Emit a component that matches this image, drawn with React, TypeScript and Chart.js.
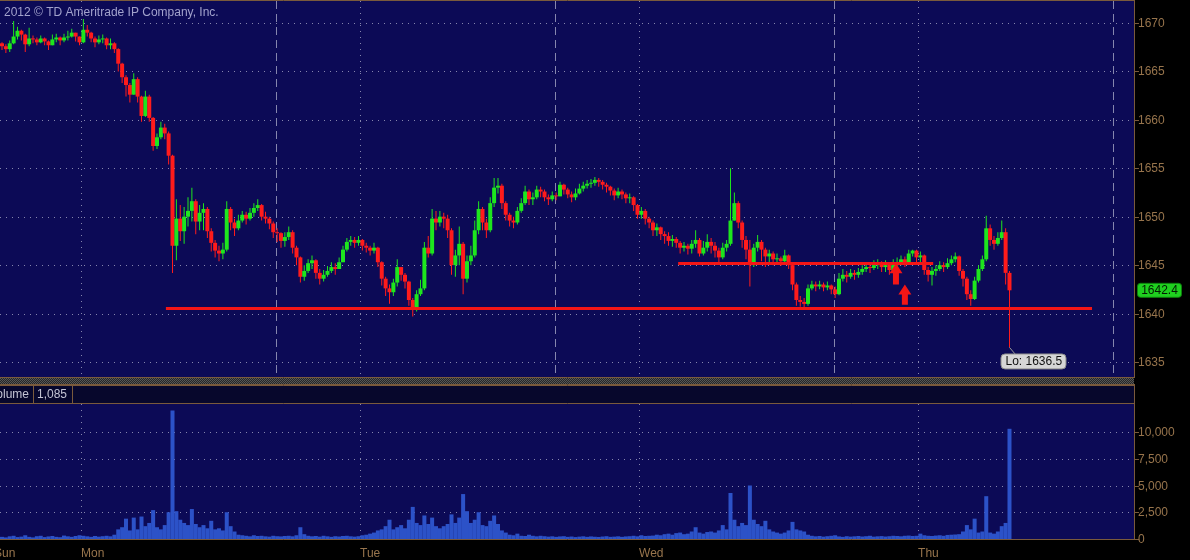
import React, { useEffect, useRef } from "react";
import { Chart, registerables } from "chart.js";
Chart.register(...registerables);

// ---- data (20-minute candles, index 0 = left edge of chart) ----
const firstOpen = 1667.9;
const closes = [
  1667.6, 1667.3, 1667.9, 1668.6, 1669.2, 1668.8, 1667.8, 1668.4, 1668.3, 1668.0,
  1668.4, 1668.1, 1667.7, 1668.3, 1668.5, 1668.2, 1668.5, 1668.6, 1669.0, 1668.6,
  1668.0, 1669.3, 1669.0, 1668.4, 1668.0, 1668.3, 1668.4, 1667.7, 1667.9, 1667.3,
  1665.8, 1664.4, 1663.6, 1662.6, 1664.2, 1662.4, 1660.4, 1662.4, 1660.2, 1657.3,
  1658.2, 1659.2, 1658.6, 1656.3, 1647.0, 1649.8, 1648.5, 1650.0, 1650.6, 1651.6,
  1649.5, 1650.4, 1650.8, 1648.5, 1647.3, 1646.5, 1646.2, 1646.6, 1650.8, 1649.4,
  1648.8, 1649.6, 1650.2, 1649.8, 1650.4, 1650.9, 1651.2, 1650.0, 1649.8, 1649.3,
  1648.4, 1648.3, 1647.5, 1647.9, 1648.4, 1646.8, 1645.8, 1643.8, 1644.4, 1645.2,
  1645.5, 1644.2, 1643.6, 1644.0, 1644.4, 1644.8, 1644.6, 1645.3, 1646.6, 1647.4,
  1647.6, 1647.3, 1647.6, 1647.0, 1646.8, 1646.5, 1646.8, 1645.3, 1643.6, 1642.6,
  1642.2, 1643.2, 1644.8, 1644.0, 1643.3, 1641.4, 1640.4, 1642.0, 1642.6, 1646.8,
  1646.2, 1649.8, 1649.4, 1650.0, 1649.8, 1648.6, 1645.0, 1646.0, 1647.2, 1643.6,
  1645.4, 1646.0, 1648.6, 1650.8, 1649.4, 1648.6, 1651.4, 1653.0, 1653.2, 1651.4,
  1650.2, 1649.6, 1649.4, 1650.6, 1651.4, 1652.6, 1651.8, 1652.0, 1652.8, 1652.6,
  1652.0, 1651.8, 1652.2, 1652.1, 1653.3, 1652.8, 1652.3, 1652.0, 1652.4, 1652.9,
  1653.2, 1653.4, 1653.5, 1653.8, 1653.6, 1653.3, 1653.1, 1652.7, 1652.2, 1652.6,
  1652.3, 1651.9, 1652.0, 1651.2, 1650.2, 1650.6, 1649.8, 1649.4, 1648.6, 1648.9,
  1648.2, 1648.0, 1647.5, 1647.7, 1647.3, 1646.8, 1647.0, 1646.7, 1647.2, 1647.6,
  1646.2, 1646.8, 1647.4, 1647.0, 1646.5, 1645.8, 1646.8, 1647.2, 1649.6, 1651.4,
  1649.4, 1647.6, 1646.6, 1645.0, 1646.8, 1647.4, 1646.6, 1645.9, 1646.2, 1645.6,
  1645.7, 1645.4, 1646.0, 1645.0, 1643.0, 1641.4, 1641.2, 1641.0, 1642.6, 1643.0,
  1642.8, 1643.0, 1642.7, 1642.9, 1642.5, 1642.0, 1643.6, 1644.0, 1643.8, 1644.2,
  1644.0, 1644.3, 1644.6, 1644.8, 1644.7, 1645.0, 1645.2, 1644.8, 1645.0, 1644.5,
  1645.0, 1645.3, 1645.6, 1645.3, 1646.2, 1646.5, 1645.8, 1646.0, 1644.5, 1644.0,
  1644.4, 1644.6, 1645.0, 1644.8, 1645.2, 1645.6, 1645.9, 1644.4, 1643.6, 1642.0,
  1641.5, 1643.4, 1644.6, 1645.6, 1648.8, 1647.6, 1647.2, 1647.8, 1648.4, 1644.2,
  1642.4,
];
const highs = [
  1668.0, 1667.8, 1668.2, 1670.2, 1669.6, 1669.3, 1668.9, 1669.5, 1668.7, 1668.5,
  1668.7, 1668.5, 1668.2, 1668.8, 1668.9, 1668.6, 1668.9, 1669.2, 1669.4, 1669.0,
  1668.6, 1670.4, 1669.8, 1669.1, 1668.6, 1668.7, 1668.8, 1668.5, 1668.4, 1668.0,
  1667.4, 1665.9, 1664.6, 1663.8, 1664.8, 1664.4, 1662.5, 1663.0, 1662.6, 1660.3,
  1658.6, 1659.8, 1659.6, 1658.8, 1656.4, 1651.8, 1651.2, 1651.0, 1652.0, 1653.0,
  1651.8, 1651.2, 1651.4, 1651.0, 1648.8, 1647.6, 1647.0, 1647.3, 1651.6, 1651.0,
  1649.8, 1650.2, 1650.6, 1650.5, 1650.9, 1651.4, 1651.8, 1651.3, 1650.5, 1650.0,
  1649.5, 1648.8, 1648.4, 1648.4, 1649.0, 1648.6, 1647.0, 1645.9, 1645.0, 1645.6,
  1646.0, 1645.6, 1644.6, 1644.5, 1644.9, 1645.3, 1645.2, 1645.8, 1647.0, 1647.8,
  1648.0, 1647.9, 1648.0, 1647.7, 1647.3, 1647.0, 1647.3, 1646.9, 1645.4, 1643.8,
  1643.0, 1643.6, 1645.6, 1644.6, 1644.2, 1643.4, 1641.6, 1642.4, 1643.5, 1647.4,
  1648.0, 1650.8, 1650.6, 1650.6, 1650.4, 1650.2, 1648.8, 1646.6, 1649.0, 1647.4,
  1646.0, 1647.0, 1649.6, 1651.6, 1651.0, 1649.8, 1652.0, 1654.0, 1654.0, 1653.4,
  1651.6, 1650.4, 1650.0, 1651.0, 1651.9, 1653.2, 1652.8, 1652.5, 1653.2, 1653.1,
  1652.8, 1652.3, 1652.6, 1652.5, 1653.6, 1653.4, 1653.0, 1652.6, 1652.9, 1653.4,
  1653.6, 1653.8, 1653.9, 1654.1, 1654.0, 1653.8, 1653.5, 1653.2, 1652.9, 1653.0,
  1652.8, 1652.5, 1652.4, 1652.1, 1651.3, 1651.0, 1650.8, 1650.0, 1649.6, 1649.3,
  1649.0, 1648.5, 1648.4, 1648.1, 1647.9, 1647.5, 1647.4, 1647.2, 1647.6, 1648.6,
  1647.8, 1647.5, 1648.2, 1647.8, 1647.4, 1646.8, 1647.3, 1647.6, 1655.0, 1652.5,
  1651.6, 1649.6, 1648.0, 1647.6, 1647.2, 1648.1, 1647.6, 1646.8, 1646.6, 1646.4,
  1646.2, 1645.9, 1646.6, 1646.1, 1645.1, 1643.2, 1641.8, 1641.6, 1643.0, 1643.4,
  1643.3, 1643.4, 1643.2, 1643.3, 1643.0, 1642.8, 1644.2, 1644.6, 1644.4, 1644.6,
  1644.5, 1644.7, 1645.0, 1645.2, 1645.2, 1645.5, 1645.6, 1645.4, 1645.5, 1645.2,
  1645.6, 1645.8, 1646.0, 1645.9, 1646.6, 1646.6, 1646.6, 1646.4, 1646.1, 1644.8,
  1644.8, 1645.0, 1645.4, 1645.3, 1645.7, 1646.0, 1646.3, 1646.0, 1644.6, 1643.8,
  1642.4, 1643.8, 1645.0, 1646.0, 1650.1, 1649.2, 1648.0, 1648.4, 1649.6, 1648.8,
  1644.4,
];
const lows = [
  1667.2, 1666.9, 1667.0, 1667.8, 1668.3, 1668.2, 1667.0, 1667.6, 1667.9, 1667.7,
  1667.9, 1667.7, 1667.2, 1667.8, 1668.0, 1667.7, 1668.0, 1668.2, 1668.5, 1668.1,
  1667.7, 1667.9, 1668.6, 1668.0, 1667.5, 1667.8, 1667.9, 1667.3, 1667.3, 1666.9,
  1665.0, 1663.8, 1662.4, 1661.8, 1662.8, 1661.8, 1659.8, 1660.3, 1659.8, 1656.8,
  1657.0, 1658.0, 1658.0, 1655.4, 1644.2, 1645.5, 1647.5, 1647.2, 1649.0, 1649.5,
  1648.2, 1648.6, 1648.6, 1647.8, 1646.4, 1645.8, 1645.4, 1645.6, 1646.4, 1648.6,
  1648.0, 1648.6, 1649.4, 1649.2, 1649.6, 1650.0, 1650.6, 1649.6, 1649.3, 1648.7,
  1647.8, 1647.4, 1646.8, 1646.9, 1647.6, 1646.2, 1645.0, 1643.2, 1643.4, 1644.2,
  1644.6, 1643.6, 1643.0, 1643.3, 1643.8, 1644.2, 1644.0, 1644.6, 1645.3, 1646.4,
  1647.0, 1646.8, 1647.0, 1646.5, 1646.3, 1646.0, 1646.2, 1644.8, 1642.9, 1641.8,
  1641.0, 1641.8, 1642.8, 1643.4, 1642.6, 1640.8, 1639.7, 1640.2, 1641.8, 1642.4,
  1645.8, 1646.0, 1648.6, 1649.0, 1648.8, 1647.8, 1644.0, 1643.8, 1645.0, 1642.0,
  1643.2, 1645.0, 1645.8, 1648.2, 1648.6, 1647.8, 1648.4, 1651.0, 1652.4, 1650.8,
  1649.6, 1649.0, 1648.8, 1649.2, 1650.4, 1651.2, 1651.2, 1651.2, 1651.8, 1652.0,
  1651.6, 1651.2, 1651.6, 1651.7, 1652.2, 1652.3, 1651.9, 1651.5, 1651.7, 1652.3,
  1652.6, 1652.9, 1653.0, 1653.2, 1653.1, 1652.8, 1652.5, 1652.2, 1651.7, 1651.9,
  1651.8, 1651.4, 1651.4, 1650.6, 1649.8, 1649.8, 1649.2, 1648.8, 1648.0, 1648.0,
  1647.6, 1647.2, 1647.0, 1646.9, 1646.8, 1646.2, 1646.4, 1646.1, 1646.2, 1646.8,
  1645.9, 1646.0, 1646.4, 1646.2, 1645.8, 1645.1, 1645.6, 1646.4, 1647.0, 1649.6,
  1648.8, 1646.8, 1645.6, 1642.8, 1644.8, 1646.4, 1645.4, 1644.8, 1645.3, 1645.0,
  1645.1, 1644.9, 1645.2, 1644.6, 1642.4, 1640.8, 1640.7, 1640.6, 1640.8, 1642.4,
  1642.3, 1642.5, 1642.3, 1642.4, 1642.0, 1641.6, 1641.9, 1643.3, 1643.2, 1643.6,
  1643.5, 1643.7, 1644.0, 1644.3, 1644.2, 1644.5, 1644.6, 1644.3, 1644.3, 1644.0,
  1644.3, 1644.8, 1645.0, 1644.8, 1645.2, 1645.9, 1645.3, 1645.3, 1644.0, 1643.3,
  1642.9, 1643.9, 1644.4, 1644.3, 1644.6, 1645.0, 1645.3, 1643.9, 1642.8, 1641.4,
  1640.8, 1641.4, 1643.2, 1644.4, 1645.4, 1647.0, 1646.6, 1647.0, 1647.6, 1643.0,
  1636.5,
];
const volumes = [
  200, 150, 250, 300, 180, 220, 350, 200, 150, 260, 300, 180, 240, 280, 200, 170, 320, 250, 200, 280, 350,
  300, 250, 200, 280, 220, 260, 300, 250,
  400, 900, 1100, 1900, 800, 2000, 900, 2100, 1200, 1500, 2700, 1100, 900, 1300, 2500, 12000, 2600, 1800,
  1500, 1300, 2800, 1400, 1100, 1300, 1000, 1700, 900, 1000, 800, 2500, 1200, 700, 400, 350,
  300, 250, 350, 280, 300, 250, 220, 300, 260, 240, 280, 300, 250,
  350, 1100, 450,
  300, 250, 280, 220, 300, 250, 200, 260, 230, 280, 300, 250, 220, 260,
  350, 400, 500, 600, 800, 900, 1200, 1800,
  900, 1100, 1300, 1000, 1800, 3000, 1500, 1300, 2200, 1400, 2000, 1200, 1000, 1200, 1400, 2300, 1500, 2000,
  4200, 2600, 1500, 1800, 2500, 1300, 1200, 1700, 2200, 1400, 800, 600,
  400, 350, 500, 300, 280, 400, 300, 250, 300, 260,
  220, 250, 200, 240, 260, 200, 230, 180, 220, 250, 200, 240, 210, 190, 230, 260, 200, 220, 250, 200,
  240, 260, 300, 250, 350, 280, 300, 320, 400, 350,
  450, 500, 400, 550, 600, 450, 500, 700, 1100, 600,
  500, 650, 700, 600, 800, 1300, 900,
  4300, 1800, 1200, 1500, 1300, 5000, 1800, 1400, 1200, 1700, 900, 700, 600, 500, 600, 800, 1600, 900, 800, 700, 400,
  300, 250, 280, 220, 260, 300, 350, 240, 200, 260, 220, 250, 280, 230, 260, 300, 220, 250, 270, 230, 260, 300, 280, 250, 300, 320, 280,
  300, 500, 350, 300, 280, 320, 350, 300, 380, 400, 420,
  450, 700, 1300, 900, 1900, 600, 700, 4000, 600, 500, 700, 1200, 1500, 10300,
];

const priceTicks = [1635, 1640, 1645, 1650, 1655, 1660, 1665, 1670];
const volumeTicks = [0, 2500, 5000, 7500, 10000];
const volumeTickLabels = ["0", "2,500", "5,000", "7,500", "10,000"];
const dayLabels = ["Sun", "Mon", "Tue", "Wed", "Thu"];
const dayStarts = [-51.6, 20.4, 92.4, 164.4, 236.4];
const sessionMarks = [70.7, 142.7, 214.7, 286.7];

// drawn study lines and arrows (price levels, candle-index extents)
const levelValues = [1640.6, 1645.2];
const levelFrom = [42.3, 174.5];
const levelTo = [281.3, 240.3];
const arrowX = [230.7, 233.0];
const arrowTip = [1645.2, 1643.0];
const arrowTail = [1643.0, 1640.9];
const volumeHeaderValue = "1,085";

// ---- scale ranges ----
const X_MIN = -0.516;
const X_MAX = 292.13;
const P_MIN = 1633.45;
const P_MAX = 1672.27;
const V_MAX = 12617;

// ---- styles ----
const NAVY = "#0c0a56";
const BORDER = "#7a5a3c";
const AXIS_TEXT = "#97744c";
const GRID = "#8686ae";
const UP = "#1ee61e";
const DOWN = "#ff1c1c";
const RED_LINE = "#f41616";
const FONT = '12px "Liberation Sans", Arial, sans-serif';
const PLOT_RIGHT = 1134;

function vLine(ctx: CanvasRenderingContext2D, x: number, y1: number, y2: number) {
  ctx.beginPath();
  ctx.moveTo(x, y1);
  ctx.lineTo(x, y2);
  ctx.stroke();
}
function hLine(ctx: CanvasRenderingContext2D, x1: number, x2: number, y: number) {
  ctx.beginPath();
  ctx.moveTo(x1, y);
  ctx.lineTo(x2, y);
  ctx.stroke();
}
function roundRect(ctx: CanvasRenderingContext2D, x: number, y: number, w: number, h: number, r: number) {
  ctx.beginPath();
  ctx.moveTo(x + r, y);
  ctx.lineTo(x + w - r, y);
  ctx.quadraticCurveTo(x + w, y, x + w, y + r);
  ctx.lineTo(x + w, y + h - r);
  ctx.quadraticCurveTo(x + w, y + h, x + w - r, y + h);
  ctx.lineTo(x + r, y + h);
  ctx.quadraticCurveTo(x, y + h, x, y + h - r);
  ctx.lineTo(x, y + r);
  ctx.quadraticCurveTo(x, y, x + r, y);
  ctx.closePath();
}

const pricePanel = {
  id: "pricePanel",
  beforeDraw(chart: any) {
    const { ctx, chartArea: a, scales } = chart;
    const x = scales.x, y = scales.y;
    ctx.save();
    ctx.fillStyle = "#000";
    ctx.fillRect(0, 0, chart.width, chart.height);
    ctx.fillStyle = NAVY;
    ctx.fillRect(a.left, a.top, a.right - a.left, a.bottom - a.top);
    ctx.strokeStyle = GRID;
    ctx.lineWidth = 1;
    ctx.setLineDash([1, 5]);
    priceTicks.forEach((p) => hLine(ctx, a.left, a.right, Math.round(y.getPixelForValue(p)) + 0.5));
    dayStarts.forEach((d) => {
      const px = Math.round(x.getPixelForValue(d)) + 0.5;
      if (px > a.left && px < a.right) vLine(ctx, px, a.top, a.bottom);
    });
    ctx.setLineDash([8, 5]);
    sessionMarks.forEach((d) => {
      const px = Math.round(x.getPixelForValue(d)) + 0.5;
      if (px > a.left && px < a.right) vLine(ctx, px, a.top, a.bottom);
    });
    ctx.setLineDash([]);
    ctx.fillStyle = "#a2a2cc";
    ctx.font = FONT;
    ctx.textBaseline = "middle";
    ctx.textAlign = "left";
    ctx.fillText("2012 \u00a9 TD Ameritrade IP Company, Inc.", 4, 13);
    ctx.restore();
  },
  afterDatasetsDraw(chart: any) {
    const { ctx, chartArea: a, scales } = chart;
    const x = scales.x, y = scales.y;
    ctx.save();
    // horizontal study lines
    ctx.fillStyle = RED_LINE;
    levelValues.forEach((lv, k) => {
      const py = y.getPixelForValue(lv);
      const x1 = x.getPixelForValue(levelFrom[k]);
      const x2 = x.getPixelForValue(levelTo[k]);
      ctx.fillRect(x1, Math.round(py) - 1, x2 - x1, 3);
    });
    // arrows
    arrowX.forEach((ax, k) => {
      const cx = x.getPixelForValue(ax);
      const tip = y.getPixelForValue(arrowTip[k]);
      const tail = y.getPixelForValue(arrowTail[k]);
      const hb = tip + 10;
      ctx.beginPath();
      ctx.moveTo(cx, tip);
      ctx.lineTo(cx + 6.5, hb);
      ctx.lineTo(cx + 3, hb);
      ctx.lineTo(cx + 3, tail);
      ctx.lineTo(cx - 3, tail);
      ctx.lineTo(cx - 3, hb);
      ctx.lineTo(cx - 6.5, hb);
      ctx.closePath();
      ctx.fill();
    });
    // low label
    let li = 0;
    lows.forEach((l, i) => { if (l < lows[li]) li = i; });
    const lx = x.getPixelForValue(li);
    const ly = y.getPixelForValue(lows[li]);
    ctx.strokeStyle = "#9a9a9a";
    ctx.lineWidth = 1;
    ctx.beginPath();
    ctx.moveTo(lx, ly);
    ctx.lineTo(lx + 6, ly + 7);
    ctx.stroke();
    ctx.font = FONT;
    ctx.textBaseline = "middle";
    roundRect(ctx, lx - 8.5, ly + 6.5, 65, 15, 4);
    ctx.fillStyle = "#d6d6d6";
    ctx.fill();
    ctx.strokeStyle = "#8a8a8a";
    ctx.stroke();
    ctx.fillStyle = "#111";
    ctx.textAlign = "left";
    ctx.fillText("Lo: " + lows[li].toFixed(1), lx - 4, ly + 14.5);
    // borders
    ctx.strokeStyle = BORDER;
    hLine(ctx, 0, PLOT_RIGHT + 1, 0.5);
    hLine(ctx, 0, PLOT_RIGHT + 1, a.bottom + 0.5);
    vLine(ctx, PLOT_RIGHT + 0.5, 0, a.bottom + 1);
    // separator strip
    ctx.fillStyle = "#262626";
    ctx.fillRect(0, a.bottom + 1, PLOT_RIGHT, 6);
    ctx.fillStyle = "#575757";
    for (let yy = a.bottom + 1; yy < a.bottom + 7; yy++) {
      for (let xx = yy % 2; xx < PLOT_RIGHT; xx += 2) ctx.fillRect(xx, yy, 1, 1);
    }
    ctx.strokeStyle = BORDER;
    hLine(ctx, 0, PLOT_RIGHT + 1, a.bottom + 7.5);
    // axis ticks & labels
    ctx.fillStyle = AXIS_TEXT;
    ctx.textAlign = "left";
    priceTicks.forEach((p) => {
      const py = Math.round(y.getPixelForValue(p)) + 0.5;
      hLine(ctx, PLOT_RIGHT, PLOT_RIGHT + 5, py);
      ctx.fillText(String(p), PLOT_RIGHT + 4, py);
    });
    // last price label
    const last = closes[closes.length - 1];
    const py = y.getPixelForValue(last);
    roundRect(ctx, PLOT_RIGHT + 3.5, py - 7, 44, 14, 3);
    ctx.fillStyle = "#1fd01f";
    ctx.fill();
    ctx.strokeStyle = "#0d800d";
    ctx.stroke();
    ctx.fillStyle = "#031c03";
    ctx.textAlign = "center";
    ctx.fillText(last.toFixed(1), PLOT_RIGHT + 25.5, py + 0.5);
    ctx.restore();
  },
};

const volumePanel = {
  id: "volumePanel",
  beforeDraw(chart: any) {
    const { ctx, chartArea: a, scales } = chart;
    const x = scales.x, y = scales.y;
    ctx.save();
    ctx.fillStyle = "#000";
    ctx.fillRect(0, 0, chart.width, chart.height);
    // header row
    ctx.fillStyle = "#07072c";
    ctx.fillRect(0, 0, PLOT_RIGHT, a.top);
    ctx.strokeStyle = BORDER;
    ctx.lineWidth = 1;
    hLine(ctx, 0, PLOT_RIGHT + 1, 0.5);
    vLine(ctx, 33.5, 0, a.top);
    vLine(ctx, 72.5, 0, a.top);
    ctx.font = FONT;
    ctx.textBaseline = "middle";
    ctx.fillStyle = "#c4c4d4";
    ctx.textAlign = "right";
    ctx.fillText("Volume", 29, a.top / 2 + 0.5);
    ctx.textAlign = "left";
    ctx.fillText(volumeHeaderValue, 37, a.top / 2 + 0.5);
    // plot background
    ctx.fillStyle = NAVY;
    ctx.fillRect(a.left, a.top, a.right - a.left, a.bottom - a.top);
    ctx.strokeStyle = GRID;
    ctx.setLineDash([1, 5]);
    volumeTicks.forEach((v) => {
      if (v === 0) return;
      hLine(ctx, a.left, a.right, Math.round(y.getPixelForValue(v)) + 0.5);
    });
    dayStarts.forEach((d) => {
      const px = Math.round(x.getPixelForValue(d)) + 0.5;
      if (px > a.left && px < a.right) vLine(ctx, px, a.top, a.bottom);
    });
    ctx.setLineDash([]);
    ctx.restore();
  },
  afterDatasetsDraw(chart: any) {
    const { ctx, chartArea: a, scales } = chart;
    const x = scales.x, y = scales.y;
    ctx.save();
    ctx.strokeStyle = BORDER;
    ctx.lineWidth = 1;
    hLine(ctx, 0, PLOT_RIGHT + 1, a.top - 0.5);
    hLine(ctx, 0, PLOT_RIGHT + 1, a.bottom + 0.5);
    vLine(ctx, PLOT_RIGHT + 0.5, 0, a.bottom + 1);
    ctx.font = FONT;
    ctx.textBaseline = "middle";
    ctx.fillStyle = AXIS_TEXT;
    ctx.textAlign = "left";
    volumeTicks.forEach((v, k) => {
      const py = Math.round(y.getPixelForValue(v)) + 0.5;
      hLine(ctx, PLOT_RIGHT, PLOT_RIGHT + 5, py);
      ctx.fillText(volumeTickLabels[k], PLOT_RIGHT + 4, py);
    });
    dayLabels.forEach((lab, k) => {
      const px = Math.max(-6, x.getPixelForValue(dayStarts[k]));
      ctx.fillText(lab, px, a.bottom + 15);
    });
    ctx.restore();
  },
};

export default function App() {
  const priceRef = useRef<HTMLCanvasElement>(null);
  const volRef = useRef<HTMLCanvasElement>(null);

  useEffect(() => {
    const opens = closes.map((c, i) => (i === 0 ? firstOpen : closes[i - 1]));
    const colors = closes.map((c, i) => (c >= opens[i] ? UP : DOWN));
    const wicks = closes.map((c, i) => ({
      x: i,
      y: [Math.min(lows[i], opens[i], c), Math.max(highs[i], opens[i], c)],
    }));
    const bodies = closes.map((c, i) => ({
      x: i,
      y: [Math.min(opens[i], c), Math.max(opens[i], c)],
    }));
    const priceChart = new Chart(priceRef.current as HTMLCanvasElement, {
      type: "bar",
      data: {
        datasets: [
          { data: wicks as any, backgroundColor: colors, barThickness: 1, grouped: false, inflateAmount: 0, minBarLength: 1 } as any,
          { data: bodies as any, backgroundColor: colors, barThickness: 4, grouped: false, inflateAmount: 0, minBarLength: 1 } as any,
        ],
      },
      options: {
        animation: false,
        responsive: false,
        devicePixelRatio: 1,
        layout: { padding: { left: 0, right: 56, top: 1, bottom: 8 } },
        scales: {
          x: { type: "linear", min: X_MIN, max: X_MAX, offset: false, bounds: "ticks", display: false },
          y: { type: "linear", min: P_MIN, max: P_MAX, display: false },
        },
        plugins: { legend: { display: false }, tooltip: { enabled: false } },
      } as any,
      plugins: [pricePanel],
    });
    const volChart = new Chart(volRef.current as HTMLCanvasElement, {
      type: "bar",
      data: {
        datasets: [
          {
            data: volumes.map((v, i) => ({ x: i, y: v })) as any,
            backgroundColor: "#2c52c8",
            barThickness: 4,
            inflateAmount: 0,
          } as any,
        ],
      },
      options: {
        animation: false,
        responsive: false,
        devicePixelRatio: 1,
        layout: { padding: { left: 0, right: 56, top: 19, bottom: 21 } },
        scales: {
          x: { type: "linear", min: X_MIN, max: X_MAX, offset: false, display: false },
          y: { type: "linear", min: 0, max: V_MAX, display: false },
        },
        plugins: { legend: { display: false }, tooltip: { enabled: false } },
      } as any,
      plugins: [volumePanel],
    });
    return () => {
      priceChart.destroy();
      volChart.destroy();
    };
  }, []);

  return (
    <div style={{ position: "fixed", left: 0, top: 0, width: 1190, height: 560, background: "#000", overflow: "hidden" }}>
      <canvas ref={priceRef} width={1190} height={385} style={{ position: "absolute", left: 0, top: 0, width: 1190, height: 385 }} />
      <canvas ref={volRef} width={1190} height={175} style={{ position: "absolute", left: 0, top: 385, width: 1190, height: 175 }} />
    </div>
  );
}
